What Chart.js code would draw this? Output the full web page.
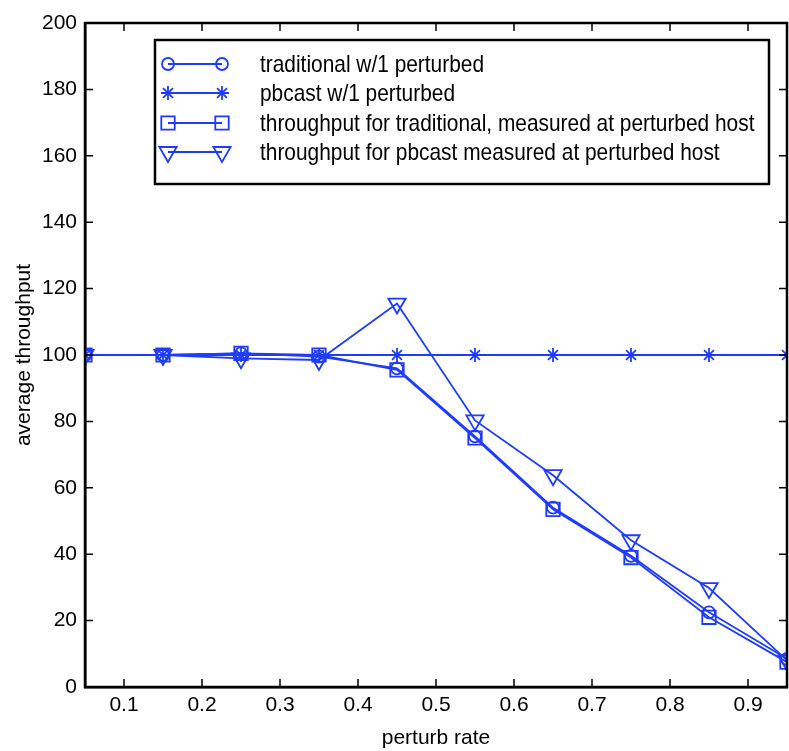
<!DOCTYPE html>
<html>
<head>
<meta charset="utf-8">
<script src="https://cdn.jsdelivr.net/npm/chart.js@4/dist/chart.umd.min.js"></script>
<style>
  html, body { margin: 0; padding: 0; background: #fff; }
  #wrap { width: 789px; height: 751px; }
</style>
</head>
<body>
<div id="wrap"><canvas id="perturbChart"></canvas></div>
<script>
var perturb_rate = [0.05, 0.15, 0.25, 0.35, 0.45, 0.55, 0.65, 0.75, 0.85, 0.95];
var traditional = [100, 100, 100.5, 99.5, 96, 75.5, 54, 39.5, 22.5, 8.5];
var pbcast = [100, 100, 100, 100, 100, 100, 100, 100, 100, 100];
var thr_traditional = [100, 100, 100.5, 100, 95.5, 75, 53.5, 39, 21, 7.5];
var thr_pbcast = [100, 100, 99, 98.5, 115.5, 80.3, 63.8, 44.2, 29.8, 8];
var x_ticks = [0.1, 0.2, 0.3, 0.4, 0.5, 0.6, 0.7, 0.8, 0.9];
var y_ticks = [0, 20, 40, 60, 80, 100, 120, 140, 160, 180, 200];
var series_labels = [
  'traditional w/1 perturbed',
  'pbcast w/1 perturbed',
  'throughput for traditional, measured at perturbed host',
  'throughput for pbcast measured at perturbed host'
];

var BLUE = '#1e3cff';
var FONT = '"Liberation Sans Narrow", "Liberation Sans", Arial, sans-serif';

function pts(vals) {
  var out = [];
  for (var i = 0; i < vals.length; i++) out.push({x: perturb_rate[i], y: vals[i]});
  return out;
}

function ds(label, vals, style, radius, rot) {
  return {
    label: label,
    data: pts(vals),
    borderColor: BLUE,
    backgroundColor: 'rgba(0,0,0,0)',
    borderWidth: 1.8,
    pointStyle: style,
    pointRadius: radius,
    pointRotation: rot || 0,
    pointBorderColor: BLUE,
    pointBorderWidth: 1.8,
    pointBackgroundColor: 'rgba(0,0,0,0)',
    tension: 0,
    fill: false
  };
}

// inward ticks on all four sides + top/right frame
var frameTicks = {
  id: 'frameTicks',
  afterDraw: function(chart) {
    var ctx = chart.ctx, a = chart.chartArea;
    var xs = chart.scales.x, ys = chart.scales.y;
    var len = 8;
    ctx.save();
    ctx.strokeStyle = '#000';
    ctx.lineWidth = 1.5;
    ctx.beginPath();
    x_ticks.forEach(function(v) {
      var px = xs.getPixelForValue(v);
      ctx.moveTo(px, a.bottom); ctx.lineTo(px, a.bottom - len);
      ctx.moveTo(px, a.top); ctx.lineTo(px, a.top + len);
    });
    y_ticks.forEach(function(v) {
      var py = ys.getPixelForValue(v);
      ctx.moveTo(a.left, py); ctx.lineTo(a.left + len, py);
      ctx.moveTo(a.right, py); ctx.lineTo(a.right - len, py);
    });
    ctx.stroke();
    ctx.lineWidth = 2.5;
    ctx.strokeRect(a.left, a.top, a.right - a.left, a.bottom - a.top);
    ctx.restore();
  }
};

// MATLAB style legend box
var boxLegend = {
  id: 'boxLegend',
  afterDraw: function(chart) {
    var ctx = chart.ctx;
    var bx = 155, by = 40, bw = 614, bh = 144;
    var rows = [64, 93, 123, 152];
    ctx.save();
    ctx.fillStyle = '#fff';
    ctx.fillRect(bx, by, bw, bh);
    ctx.strokeStyle = '#000';
    ctx.lineWidth = 2.5;
    ctx.strokeRect(bx, by, bw, bh);
    chart.data.datasets.forEach(function(d, i) {
      var y = rows[i];
      ctx.strokeStyle = d.borderColor;
      ctx.lineWidth = d.borderWidth;
      ctx.beginPath();
      ctx.moveTo(168, y); ctx.lineTo(222, y);
      ctx.stroke();
      var opts = {pointStyle: d.pointStyle, radius: d.pointRadius, rotation: d.pointRotation, borderWidth: d.pointBorderWidth};
      ctx.fillStyle = 'rgba(0,0,0,0)';
      Chart.helpers.drawPoint(ctx, opts, 168, y);
      Chart.helpers.drawPoint(ctx, opts, 222, y);
      // narrow, tall lettering like the original
      ctx.save();
      ctx.translate(260, y + 1);
      ctx.scale(0.87, 1);
      ctx.fillStyle = '#000';
      ctx.font = '24px ' + FONT;
      ctx.textBaseline = 'middle';
      ctx.textAlign = 'left';
      ctx.fillText(d.label, 0, 0);
      ctx.restore();
    });
    ctx.restore();
  }
};

new Chart(document.getElementById('perturbChart'), {
  type: 'line',
  data: {
    datasets: [
      ds(series_labels[0], traditional, 'circle', 6),
      ds(series_labels[1], pbcast, 'star', 7),
      ds(series_labels[2], thr_traditional, 'rect', 9.5),
      ds(series_labels[3], thr_pbcast, 'triangle', 10, 180)
    ]
  },
  options: {
    responsive: true,
    maintainAspectRatio: false,
    animation: false,
    layout: { autoPadding: false, padding: { top: 23, right: 2, left: 0, bottom: 0 } },
    plugins: {
      legend: { display: false },
      tooltip: { enabled: false }
    },
    scales: {
      x: {
        type: 'linear',
        min: 0.05,
        max: 0.95,
        afterBuildTicks: function(s) { s.ticks = x_ticks.map(function(v) { return {value: v}; }); },
        afterFit: function(s) { s.height = 64; },
        grid: { drawOnChartArea: false, drawTicks: false },
        border: { color: '#000', width: 2.5 },
        ticks: { color: '#000', padding: 6, maxRotation: 0, font: { family: FONT, size: 21 },
                 callback: function(v) { return v.toFixed(1); } },
        title: { display: true, text: 'perturb rate', color: '#000', padding: {top: 0, bottom: 0},
                 font: { family: FONT, size: 21 } }
      },
      y: {
        type: 'linear',
        min: 0,
        max: 200,
        afterBuildTicks: function(s) { s.ticks = y_ticks.map(function(v) { return {value: v}; }); },
        afterFit: function(s) { s.width = 85; },
        grid: { drawOnChartArea: false, drawTicks: false },
        border: { color: '#000', width: 2.5 },
        ticks: { color: '#000', padding: 8, font: { family: FONT, size: 21 } },
        title: { display: true, text: 'average throughput', color: '#000', padding: {top: 12, bottom: 0},
                 font: { family: FONT, size: 21 } }
      }
    }
  },
  plugins: [frameTicks, boxLegend]
});
</script>
</body>
</html>
